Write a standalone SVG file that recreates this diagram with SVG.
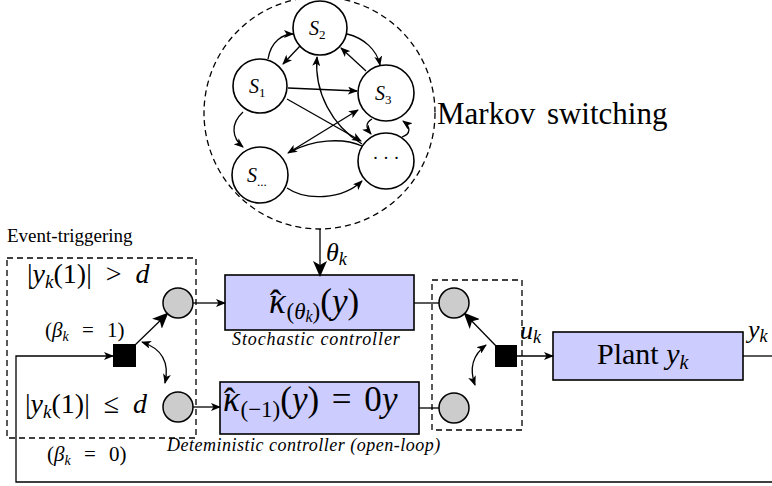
<svg xmlns="http://www.w3.org/2000/svg" width="772" height="486" viewBox="0 0 772 486">
  <style>
    .ln { fill: none; stroke: #000; stroke-width: 1.3; }
    .st { fill: #fff; stroke: #000; stroke-width: 1.6; }
    .dash { fill: none; stroke: #000; stroke-width: 1.3; stroke-dasharray: 6 4; }
    .blk { fill: #ccccff; stroke: #000; stroke-width: 1.6; }
    .sw { fill: #cccccc; stroke: #000; stroke-width: 1.5; }
    .sq { fill: #000; }
    .t { font-family: "Liberation Serif", "Times New Roman", serif; fill: #000; }
    .i { font-style: italic; }
    .a { marker-end: url(#ah); }
    .aa { marker-end: url(#ah); marker-start: url(#ah); }
  </style>
  <defs>
    <marker id="ah" markerUnits="userSpaceOnUse" viewBox="0 0 10 8" refX="9" refY="4" markerWidth="10" markerHeight="8" orient="auto-start-reverse">
      <path d="M0,0 L10,4 L0,8 L2.5,4 z" fill="#000"/>
    </marker>
    <marker id="bh" markerUnits="userSpaceOnUse" viewBox="0 0 16 14" refX="14" refY="7" markerWidth="16" markerHeight="14" orient="auto">
      <path d="M0,0 L16,7 L0,14 L4,7 z" fill="#000"/>
    </marker>
  </defs>

  <!-- Markov chain -->
  <ellipse cx="319.5" cy="113" rx="115.5" ry="116" class="dash" stroke-dasharray="8 5"/>
  <text class="t" x="437" y="124" font-size="31" word-spacing="4">Markov switching</text>

  <g id="chain-edges">
    <path class="ln a" d="M268,59 C271,41 283,34 293,34"/>
    <path class="ln a" d="M300,46 L283,64"/>
    <path class="ln a" d="M347,34 C364,38 377,50 380,65"/>
    <path class="ln a" d="M366,71 L341,48"/>
    <path class="ln a" d="M288,88 L357,91"/>
    <path class="ln a" d="M287,99 L361,141"/>
    <path class="ln a" d="M362,144 C332,126 314,92 317,57"/>
    <path class="ln aa" d="M288,153 L358,110"/>
    <path class="ln" d="M362,146 C342,137 312,140 290,152"/>
    <path class="ln a" d="M287,188 C306,201 342,200 362,181"/>
    <path class="ln a" d="M243,112 C230,124 232,138 243,147"/>
    <path class="ln a" d="M372,119 C365,123 366,128 371,134"/>
    <path class="ln a" d="M402,137 C411,134 411,127 403,121"/>
  </g>

  <g id="S2"><circle cx="320" cy="28" r="27" class="st"/>
    <text class="t i" x="309" y="35" font-size="20">S<tspan font-size="13" dy="4" font-style="normal">2</tspan></text></g>
  <g id="S1"><circle cx="260" cy="86" r="27" class="st"/>
    <text class="t i" x="249" y="93" font-size="20">S<tspan font-size="13" dy="4" font-style="normal">1</tspan></text></g>
  <g id="S3"><circle cx="386" cy="93" r="28" class="st"/>
    <text class="t i" x="375" y="100" font-size="20">S<tspan font-size="13" dy="4" font-style="normal">3</tspan></text></g>
  <g id="Sdots"><circle cx="260" cy="175" r="28" class="st"/>
    <text class="t i" x="247" y="182" font-size="20">S<tspan font-size="13" dy="4" font-style="normal">...</tspan></text></g>
  <g id="dots"><circle cx="386" cy="161" r="28" class="st"/>
    <text class="t" x="386" y="164" font-size="18" text-anchor="middle">· · ·</text></g>

  <!-- Event-triggering switch -->
  <text class="t" x="7" y="242" font-size="19">Event-triggering</text>
  <rect x="7" y="258" width="189" height="180" class="dash"/>
  <text class="t" x="27" y="283" font-size="28" word-spacing="7">|<tspan class="i">y</tspan><tspan class="i" font-size="19" dy="5">k</tspan><tspan dy="-5">(1)| &gt; </tspan><tspan class="i">d</tspan></text>
  <text class="t" x="45" y="337" font-size="21" word-spacing="8">(<tspan class="i">β</tspan><tspan class="i" font-size="14" dy="4">k</tspan><tspan dy="-4"> = 1)</tspan></text>
  <text class="t" x="25" y="413" font-size="28" word-spacing="7">|<tspan class="i">y</tspan><tspan class="i" font-size="19" dy="5">k</tspan><tspan dy="-5">(1)| ≤ </tspan><tspan class="i">d</tspan></text>
  <text class="t" x="47" y="461" font-size="21" word-spacing="8">(<tspan class="i">β</tspan><tspan class="i" font-size="14" dy="4">k</tspan><tspan dy="-4"> = 0)</tspan></text>

  <g id="sw-left">
    <rect x="113" y="344" width="23" height="23" class="sq"/>
    <circle cx="178" cy="303" r="15" class="sw"/>
    <circle cx="178" cy="407" r="15" class="sw"/>
  </g>

  <!-- Controllers -->
  <g id="stochastic">
    <rect x="225" y="275" width="189" height="55" class="blk"/>
    <text class="t" x="269" y="313" font-size="35"><tspan class="i">κ</tspan><tspan dx="-16" dy="2">ˆ</tspan><tspan font-size="23" dx="5" dy="4">(</tspan><tspan class="i" font-size="23">θ</tspan><tspan class="i" font-size="16" dy="3">k</tspan><tspan font-size="23" dy="-3">)</tspan><tspan dy="-6">(</tspan><tspan class="i">y</tspan>)</text>
    <text class="t i" x="232" y="345" font-size="18" letter-spacing="0.9">Stochastic controller</text>
  </g>
  <g id="deterministic">
    <rect x="220" y="382" width="199" height="52" class="blk"/>
    <text class="t" x="223" y="411" font-size="35" word-spacing="4"><tspan class="i">κ</tspan><tspan dx="-16" dy="2">ˆ</tspan><tspan font-size="23" dx="5" dy="4">(−1)</tspan><tspan dy="-6">(</tspan><tspan class="i">y</tspan>) = 0<tspan class="i">y</tspan></text>
    <text class="t i" x="167" y="451" font-size="18" letter-spacing="0.5">Deteministic controller (open-loop)</text>
  </g>

  <!-- Output switch -->
  <rect x="432" y="280" width="90" height="150" class="dash"/>
  <g id="sw-right">
    <rect x="495" y="345" width="22" height="22" class="sq"/>
    <circle cx="454" cy="303" r="15" class="sw"/>
    <circle cx="454" cy="408" r="15" class="sw"/>
  </g>

  <g id="plant">
    <rect x="553" y="332" width="190" height="48" class="blk"/>
    <text class="t" x="597" y="364" font-size="30">Plant <tspan class="i">y</tspan><tspan class="i" font-size="20" dy="5">k</tspan></text>
  </g>

  <!-- Signal labels -->
  <text class="t i" x="326" y="261" font-size="26">θ<tspan font-size="18" dy="4">k</tspan></text>
  <text class="t i" x="520" y="339" font-size="26">u<tspan font-size="18" dy="4">k</tspan></text>
  <text class="t i" x="748" y="338" font-size="26">y<tspan font-size="18" dy="4">k</tspan></text>

  <g id="connectors">
    <line x1="320" y1="229" x2="320" y2="275" class="ln" stroke-width="2.6" marker-end="url(#bh)"/>
    <line x1="193" y1="303" x2="225" y2="303" class="ln a"/>
    <line x1="193" y1="407" x2="220" y2="407" class="ln a"/>
    <line x1="414" y1="303" x2="439" y2="303" class="ln"/>
    <line x1="419" y1="408" x2="439" y2="408" class="ln"/>
    <line x1="517" y1="356" x2="553" y2="356" class="ln a"/>
    <line x1="743" y1="356" x2="772" y2="356" class="ln"/>
    <polyline points="772,482 16,482 16,356 113,356" class="ln a"/>
    <line x1="134" y1="346" x2="167" y2="314" class="ln" stroke-width="5" marker-end="url(#bh)"/>
    <line x1="497" y1="347" x2="465" y2="314" class="ln" stroke-width="5" marker-end="url(#bh)"/>
    <path d="M142,342 Q172,352 165,383" class="ln aa"/>
    <path d="M486,345 Q466,360 475,385" class="ln aa"/>
  </g>
</svg>
